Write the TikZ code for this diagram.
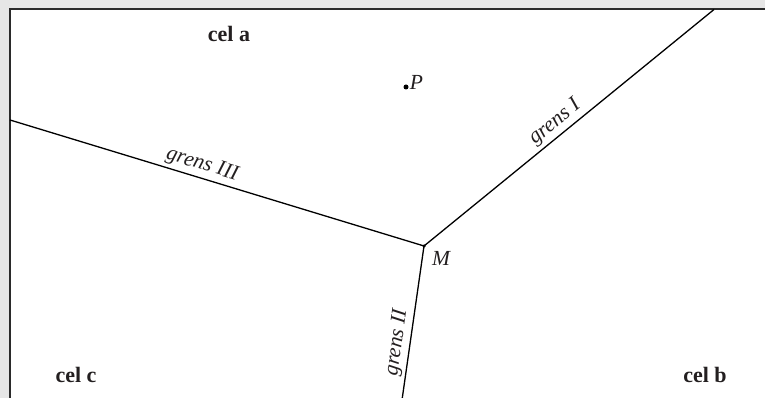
\documentclass[tikz,border=0pt]{standalone}
\usepackage{fontspec}
\setmainfont{Liberation Serif}
\definecolor{bggray}{HTML}{E6E6E6}
\definecolor{framegray}{HTML}{2A2A2A}
\definecolor{txt}{HTML}{231F20}
\begin{document}
\begin{tikzpicture}[x=1pt,y=1pt,
  cell/.style={font=\fontsize{22}{24}\selectfont\bfseries, text=txt, anchor=base, inner sep=0pt},
  lbl/.style={font=\fontsize{21.5}{24}\selectfont\itshape, text=txt},
  edge/.style={line width=1.3pt, draw=black},
  dotm/.style={circle, fill=black, inner sep=0pt, minimum size=4pt}]
\useasboundingbox (0,0) rectangle (765,398);
\fill[bggray] (0,0) rectangle (765,398);
\begin{scope}
\clip (0,0) rectangle (765,398);
\draw[line width=2pt, draw=framegray, fill=white] (9.5,-10) rectangle (775,388.5);
\end{scope}
\coordinate (M) at (424,152);
\coordinate (E1) at (714,388.5);
\coordinate (E3) at (10,278);
\coordinate (E2) at (402,-2);
\draw[edge] (M) -- node[lbl, pos=0.48, above, sloped, inner sep=3pt] {grens I} (E1);
\draw[edge] (E3) -- node[lbl, pos=0.455, above, sloped, inner sep=3pt] {grens III} (M);
\draw[edge] (E2) -- node[lbl, pos=0.36, above, sloped, inner sep=3pt] {grens II} (M);
\node[dotm, minimum size=3.5pt] (Mdot) at (M) {};
\node[lbl, anchor=north west, inner sep=0pt] (Mlab) at (432,147) {M};
\node[dotm, minimum size=5pt] (P) at (406,311) {};
\node[lbl, anchor=west, inner sep=0pt] (Plab) at (P.east) [yshift=5pt, xshift=1pt] {P};
\node[cell] (ca) at (229,356) {cel a};
\node[cell] (cb) at (705,15) {cel b};
\node[cell] (cc) at (76,15) {cel c};
\end{tikzpicture}
\end{document}
